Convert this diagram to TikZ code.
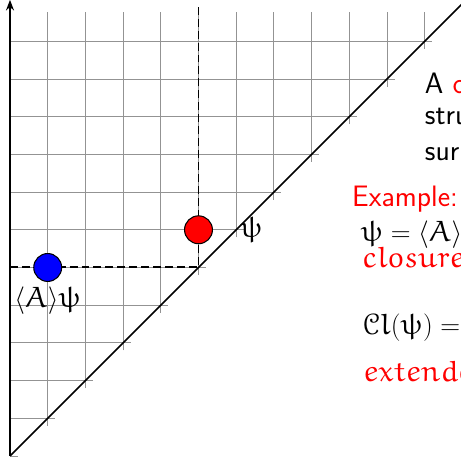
\documentclass[tikz,border=0pt]{standalone}
\usepackage[no-math]{fontspec}
\usepackage{amsfonts}
\usepackage{xcolor}
\usetikzlibrary{positioning, arrows.meta}
% Euler letters in math
\DeclareSymbolFont{letters}{U}{eur}{m}{n}
\DeclareMathAlphabet{\mathcal}{U}{eus}{m}{n}
\tikzset{
  dot/.style={circle, draw=black, thick, fill=#1, minimum size=0.74cm, inner sep=0pt},
  gridline/.style={gray!85, line width=0.6pt},
  guide/.style={line width=1.5pt, dash pattern=on 6pt off 3pt},
  txt/.style={anchor=base west, inner sep=0pt, font=\sffamily\fontsize{22.3}{27}\selectfont},
  mth/.style={anchor=base west, inner sep=0pt},
}

\begin{document}
\begin{tikzpicture}[font=\fontsize{22.3}{27}\selectfont]
  \useasboundingbox (-0.265,-0.08) rectangle (11.963,12.095);
  % Grid above the diagonal
  \foreach \k in {0,...,11} {
    \draw[gridline] (0,\k) -- (\k+0.2,\k);
  }
  \foreach \k in {1,...,11} {
    \draw[gridline] (\k,\k-0.2) -- (\k,11.78);
  }
  % Guide lines
  \coordinate (left) at (0,5);
  \coordinate (corner) at (5,5);
  \coordinate (up) at (5,11.95);
  \draw[guide] (left) -- (corner) -- (up);
  % Diagonal and axis
  \coordinate (origin) at (0,0);
  \coordinate (far) at (12.3,12.3);
  \coordinate (top) at (0,12.1);
  \draw[line width=1.3pt] (origin) -- (far);
  \draw[line width=1.8pt, -{Stealth[length=8pt, width=6pt]}] (origin) -- (top);
  % Points
  \node[dot=red] (psi) at (5,6) {};
  \node[dot=blue] (gen) at (1,5) {};
  \node[right=0.6cm of psi] (psilabel) {$\psi$};
  \node[below=0pt of gen] (genlabel) {$\langle A\rangle\psi$};
  % Text on the right
  \node[txt] (line1) at (11.0,9.62) {A \textcolor{red}{c}};
  \node[txt] (line2) at (11.0,8.78) {stru};
  \node[txt] (line3) at (11.0,7.85) {sur};
  \node[txt, red] (example) at (9.07,6.61) {Example:};
  \node[mth] (eq1) at (9.3,5.68) {$\psi = \langle A\rangle$};
  \node[mth, red] (closure) at (9.35,4.99) {$closure$};
  \node[mth] (eq2) at (9.34,3.21) {$\mathcal{C}l(\psi) =$};
  \node[mth, red] (extended) at (9.37,1.97) {$extended$};
\end{tikzpicture}
\end{document}
